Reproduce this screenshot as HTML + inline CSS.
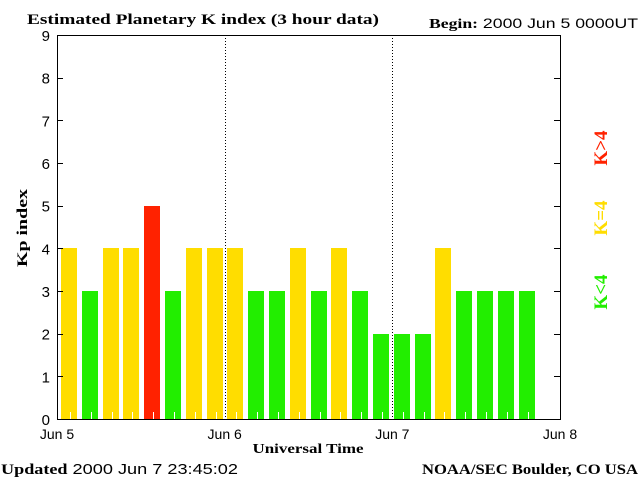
<!DOCTYPE html>
<html><head><meta charset="utf-8"><style>
body{margin:0;background:#fff;}
svg{display:block;font-family:"Liberation Sans",sans-serif;}
.s{font-family:"Liberation Serif",serif;font-weight:bold;}
</style></head><body>
<svg id="c" width="640" height="480" viewBox="0 0 640 480">
<text class="s" x="27" y="24" font-size="15" textLength="352" lengthAdjust="spacingAndGlyphs">Estimated Planetary K index (3 hour data)</text>
<text x="429" y="28" font-size="14" textLength="209" lengthAdjust="spacingAndGlyphs"><tspan class="s">Begin:</tspan>  2000 Jun 5 0000UT</text>
<text class="s" x="27" y="228" font-size="15" textLength="78" lengthAdjust="spacingAndGlyphs" transform="rotate(-90 27 228)" text-anchor="middle">Kp index</text>
<text class="s" x="308" y="453" font-size="14" textLength="111" lengthAdjust="spacingAndGlyphs" text-anchor="middle">Universal Time</text>
<text x="1" y="474" font-size="15" textLength="237" lengthAdjust="spacingAndGlyphs"><tspan class="s">Updated</tspan> 2000 Jun  7 23:45:02</text>
<text class="s" x="422" y="474" font-size="15" textLength="216" lengthAdjust="spacingAndGlyphs">NOAA/SEC Boulder, CO USA</text>
<g id="bars"></g>
<g id="axes"></g>
<text class="s" x="607" y="148" font-size="19" fill="#ff2200" transform="rotate(-90 607 148)" text-anchor="middle">K&gt;4</text>
<text class="s" x="607" y="218" font-size="19" fill="#ffdd00" transform="rotate(-90 607 218)" text-anchor="middle">K=4</text>
<text class="s" x="607" y="292" font-size="19" fill="#22ee00" transform="rotate(-90 607 292)" text-anchor="middle">K&lt;4</text>
</svg>
<script>
const kpValues=[4,3,4,4,5,3,4,4,4,3,3,4,3,4,3,2,2,2,4,3,3,3,3];
const dayLabels=["Jun 5","Jun 6","Jun 7","Jun 8"];
const yTicks=[0,1,2,3,4,5,6,7,8,9];
const NS="http://www.w3.org/2000/svg";
const L=57,R=560,T=35,B=419,days=3;
const xs=h=>L+(R-L)*h/(days*24);
const xb=h=>61+h*(20.8/3);
const ys=v=>B-(B-T)*v/9;
function mk(t,a,p){const e=document.createElementNS(NS,t);for(const k in a)e.setAttribute(k,a[k]);p.appendChild(e);return e;}
const bars=document.getElementById('bars'),ax=document.getElementById('axes');
kpValues.forEach((v,i)=>{
 const x0=Math.round(xb(i*3)),w=16;
 const col=v>4?'#ff2200':(v==4?'#ffdd00':'#22ee00');
 const r=mk('rect',{x:x0,y:Math.round(ys(v)),width:w,height:B-Math.round(ys(v)),fill:col},bars);
 
 
 const t=mk('line',{x1:x0+9.5,x2:x0+9.5,y1:B-7,y2:B,stroke:'#fff'},bars);
 
 
});
const fr=mk('rect',{x:L+0.5,y:T+0.5,width:R-L,height:B-T,fill:'none',stroke:'#000'},ax);


for(let d=1;d<days;d++){
 const x=Math.round(xs(d*24))+0.5;
 const l=mk('line',{x1:x,x2:x,y1:T,y2:B,stroke:'#000','stroke-dasharray':'1,2'},ax);
 
 
}
yTicks.forEach(v=>{
 const y=Math.round(ys(v))+0.5;
 mk('line',{x1:L,x2:L+6,y1:y,y2:y,stroke:'#000'},ax);
 mk('line',{x1:R-6,x2:R,y1:y,y2:y,stroke:'#000'},ax);
 const t=mk('text',{x:50,y:ys(v)+6,'font-size':15,'text-anchor':'end'},ax);
 t.textContent=v;
 
 
});
dayLabels.forEach((s,d)=>{
 const t=mk('text',{x:xs(d*24),y:439,'font-size':14,'text-anchor':'middle'},ax);
 t.textContent=s;
 
 
});
</script>
</body></html>
